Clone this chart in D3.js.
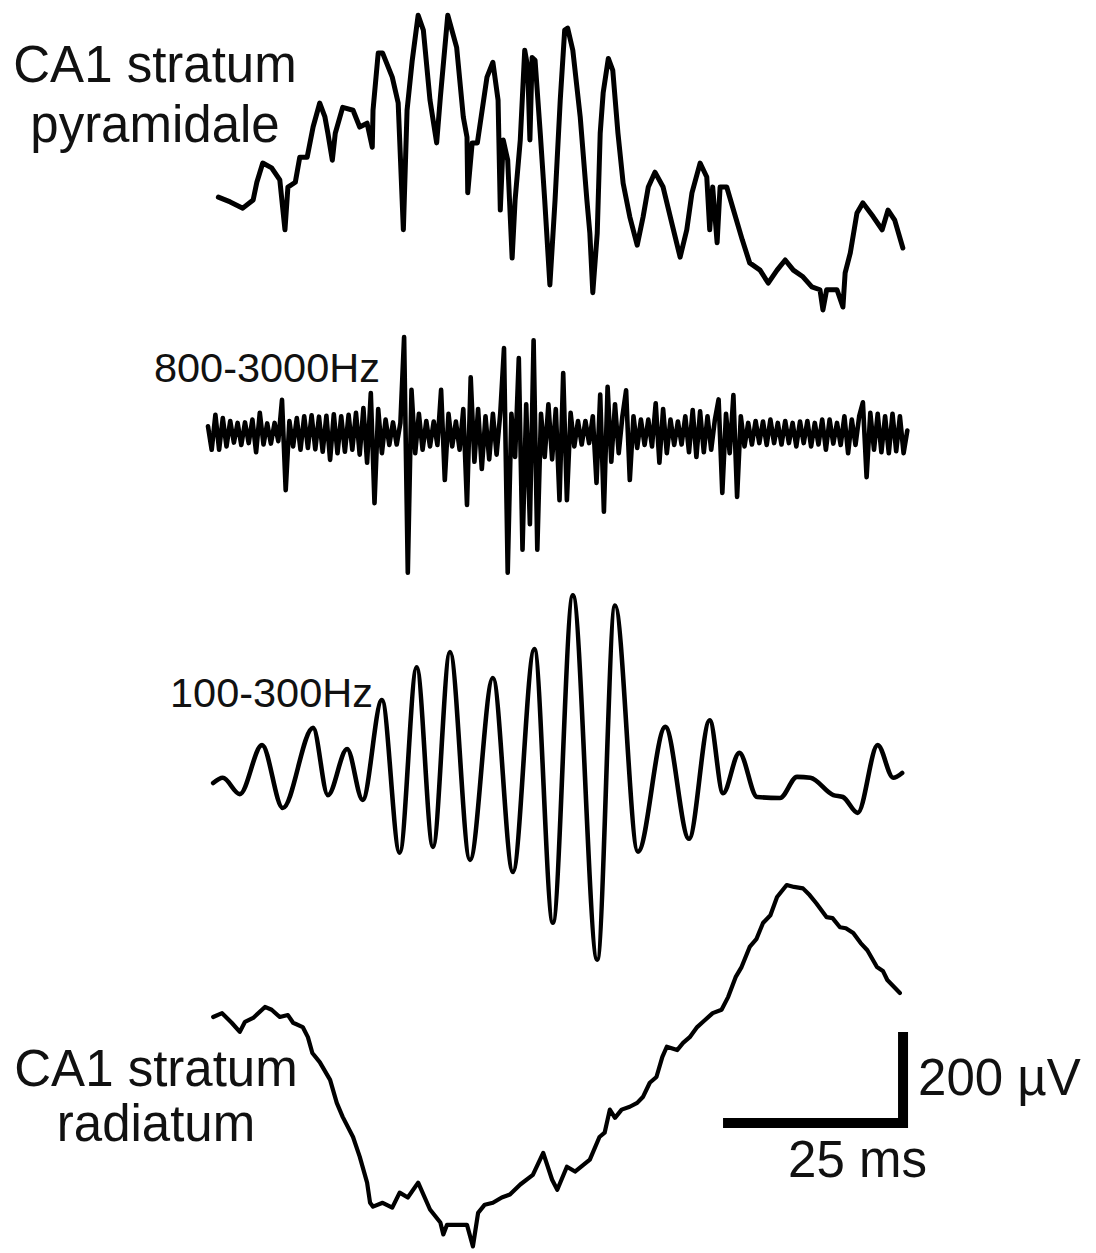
<!DOCTYPE html>
<html lang="en">

<head>
    <meta charset="UTF-8">
    <title>CA1 sharp-wave ripple</title>
    <script src="https://d3js.org/d3.v7.min.js"></script>
    <style>
        body {
            margin: 0;
            background: #fff;
            font-family: "Liberation Sans", Arial, sans-serif;
        }

        .trace {
            fill: none;
            stroke: #000;
            stroke-linejoin: round;
            stroke-linecap: round;
        }

        .label {
            fill: #111;
        }
    </style>
</head>

<body>
    <div id="chart"></div>

    <script>
        // ---- data: [time (ms), amplitude (µV)] ----
        const pyramidaleTrace = [
            [1.4, 6], [3.0, -4], [4.7, -17], [6.1, 0], [6.6, 37], [7.4, 77], [8.6, 67], [9.7, 42],
            [10.4, -62], [10.8, 27], [11.8, 37], [12.4, 89], [13.4, 89], [14.2, 152], [15.1, 202],
            [15.8, 173], [16.2, 139], [16.8, 83], [17.2, 139], [18.2, 193], [19.6, 187], [20.5, 152],
            [21.5, 160], [22.2, 110], [22.3, 187], [23.0, 306], [23.6, 306], [24.9, 256], [25.7, 202],
            [26.4, -62], [26.9, 187], [27.6, 291], [28.4, 385], [29.1, 354], [30.0, 208], [30.9, 119],
            [31.4, 214], [32.4, 385], [33.6, 318], [34.5, 173], [35.0, 131], [35.1, 15], [35.7, 119],
            [36.4, 119], [37.7, 256], [38.5, 287], [39.2, 208], [39.5, -21], [39.9, 125], [40.5, 83],
            [41.1, -121], [41.5, 0], [42.2, 125], [42.8, 312], [43.2, 277], [43.5, 125], [43.8, 297],
            [44.2, 291], [44.9, 139], [45.5, 0], [46.2, -177], [46.9, 0], [47.6, 208], [48.2, 354],
            [48.6, 358], [49.3, 312], [50.3, 173], [51.2, 0], [51.6, -69], [52.0, -193], [52.6, -69],
            [53.0, 139], [53.4, 223], [54.1, 295], [54.7, 270], [55.4, 139], [56.1, 35], [57.0, -35],
            [58.0, -94], [58.8, -35], [59.5, 27], [60.4, 58], [61.5, 27], [62.8, -56], [63.8, -119],
            [64.7, -62], [65.4, 15], [66.5, 77], [67.4, 48], [67.8, -62], [68.2, 27], [68.8, -89],
            [69.2, 27], [70.1, 27], [70.9, -15], [72.2, -83], [73.2, -131], [74.6, -146], [75.7, -173],
            [76.9, -146], [78.0, -125], [79.1, -146], [80.4, -160], [81.6, -181], [82.7, -187],
            [83.1, -229], [83.6, -187], [85.0, -187], [85.8, -223], [86.1, -152], [86.8, -110],
            [87.7, -27], [88.5, -6], [89.9, -35], [91.1, -62], [91.9, -21], [92.8, -42], [93.9, -100]
        ];

        // 800-3000 Hz band, uniformly sampled
        const highBandSampleMs = 0.5;
        const highBandValues = [
            14, -35, 38, -35, 31, -28, 25, -20, 21, -25, 22, -21, 28, -40, 42, -24, 20, -22, 21, -17,
            69, -119, 25, -28, 31, -35, 35, -31, 37, -34, 34, -39, 36, -56, 39, -42, 35, -39, 38, -35,
            42, -45, 52, -62, 83, -146, 50, -42, 28, -25, 22, -24, 21, 200, -291, 90, -42, 40, -35, 25,
            -28, 24, -25, 90, -98, 40, -28, 24, -35, 50, -150, 116, -60, 50, -75, 35, -55, 40, -45, 42,
            177, -291, 40, -50, 156, -243, 60, -190, 193, -243, 40, -50, 60, -55, 50, -140, 125, -140, 42, -28,
            25, -24, 25, -21, 35, -104, 80, -164, 96, -60, 60, -42, 35, 89, -98, 35, -31, 28, -25, 28,
            -28, 62, -62, 50, -42, 28, -25, 24, -24, 35, -40, 48, -50, 45, -40, 35, -35, 28, 70, -125,
            40, -42, 79, -133, 35, -28, 21, -24, 25, -21, 24, -25, 28, -21, 21, -24, 25, -21, 21, -28,
            24, -21, 25, -28, 21, -24, 28, -35, 28, -22, 21, -25, 35, -42, 28, -25, 35, 64, -92, 42,
            -35, 40, -40, 35, -42, 40, -38, 35, -42, 5
        ];

        // 100-300 Hz band: peaks and troughs
        const rippleTrace = [
            [0.7, 4], [2.0, 15], [4.3, -19], [7.3, 83], [10.1, -48], [14.2, 119], [16.2, -21],
            [18.8, 75], [20.9, -31], [23.5, 177], [25.9, -141], [28.2, 245], [30.4, -129], [32.7, 277],
            [35.4, -156], [38.5, 223], [41.2, -181], [44.1, 283], [46.6, -287], [49.3, 395], [52.6, -364],
            [55.0, 374], [58.1, -139], [61.8, 121], [65.0, -112], [67.8, 135], [69.6, -17], [71.8, 67],
            [74.2, -25], [77.3, -27], [79.6, 17], [81.4, 15], [84.5, -21], [85.8, -25], [87.8, -58],
            [90.5, 83], [92.6, 15], [93.8, 25]
        ];

        const radiatumTrace = [
            [0.7, 0], [1.9, 8], [3.2, -12], [4.3, -31], [5.0, -10], [6.1, -2], [7.7, 21], [8.6, 15],
            [9.7, 0], [10.8, 4], [11.5, -12], [12.8, -21], [13.5, -42], [14.1, -75], [15.1, -94],
            [16.5, -131], [17.4, -179], [18.2, -208], [19.6, -250], [20.5, -291], [21.5, -345],
            [21.9, -387], [22.3, -395], [23.6, -387], [24.9, -397], [25.9, -366], [27.0, -376],
            [28.4, -345], [30.0, -401], [31.4, -428], [31.8, -453], [32.3, -433], [33.6, -433],
            [35.0, -433], [35.8, -478], [36.5, -408], [37.4, -391], [38.5, -387], [39.7, -376],
            [40.8, -370], [42.2, -349], [43.9, -329], [45.3, -283], [46.5, -339], [47.2, -360],
            [48.5, -312], [49.6, -322], [51.6, -297], [52.9, -250], [53.6, -241], [54.3, -193],
            [55.0, -210], [55.9, -193], [57.0, -187], [58.0, -179], [58.8, -166], [59.7, -137],
            [60.6, -125], [61.4, -83], [62.0, -62], [63.4, -69], [64.2, -54], [65.1, -42], [66.1, -21],
            [66.9, -10], [68.2, 8], [69.4, 15], [70.3, 42], [71.3, 83], [72.1, 104], [73.2, 146],
            [74.1, 162], [75.0, 196], [76.0, 212], [76.9, 250], [78.2, 275], [79.2, 271], [80.4, 268],
            [81.3, 254], [82.2, 237], [83.6, 208], [84.4, 206], [85.4, 187], [86.2, 185], [87.2, 175],
            [88.2, 154], [89.1, 139], [90.4, 104], [91.2, 96], [91.8, 77], [93.5, 50]
        ];

        const traceLabels = [
            ["CA1 stratum", "pyramidale"],
            ["800-3000Hz"],
            ["100-300Hz"],
            ["CA1 stratum", "radiatum"]
        ];
        const scaleBarTime = 25;     // ms
        const scaleBarVolt = 200;    // µV
        const scaleBarLabels = ["25 ms", "200 \u00b5V"];

        // ---- layout ----
        const width = 1096;
        const height = 1253;
        const pxPerMs = 7.4;
        const pxPerUv = 0.48;
        const traceLeft = 208;
        const baselines = [200, 433, 785, 1017];
        const strokeWidths = [5, 4.6, 4.6, 4.2];

        const svg = d3.select("#chart")
            .append("svg")
            .attr("width", width)
            .attr("height", height);

        svg.append("rect").attr("width", width).attr("height", height).attr("fill", "#fff");

        const x = d3.scaleLinear()
            .domain([0, 100])
            .range([traceLeft, traceLeft + 100 * pxPerMs]);

        // one amplitude scale per trace, same gain, own baseline
        const yScales = baselines.map(b => d3.scaleLinear()
            .domain([0, scaleBarVolt])
            .range([b, b - scaleBarVolt * pxPerUv]));

        const highBandTrace = highBandValues.map((v, i) => [i * highBandSampleMs, v]);

        const traces = [
            { data: pyramidaleTrace, curve: d3.curveLinear },
            { data: highBandTrace, curve: d3.curveLinear },
            { data: rippleTrace, curve: d3.curveMonotoneX },
            { data: radiatumTrace, curve: d3.curveLinear }
        ];

        traces.forEach((tr, k) => {
            const y = yScales[k];
            const line = d3.line()
                .x(d => x(d[0]))
                .y(d => y(d[1]))
                .curve(tr.curve);
            svg.append("path")
                .datum(tr.data)
                .attr("class", "trace")
                .attr("stroke-width", strokeWidths[k])
                .attr("d", line);
        });

        // trace labels, one text per line
        const labelSpec = [
            { x: 155, y: 82, anchor: "middle", size: 51, lead: 60 },
            { x: 380, y: 382, anchor: "end", size: 41.5, lead: 0 },
            { x: 373, y: 707, anchor: "end", size: 41.5, lead: 0 },
            { x: 156, y: 1086, anchor: "middle", size: 51, lead: 55 }
        ];

        traceLabels.forEach((lines, k) => {
            const s = labelSpec[k];
            lines.forEach((txt, j) => {
                svg.append("text")
                    .attr("class", "label")
                    .attr("text-anchor", s.anchor)
                    .attr("x", s.x)
                    .attr("y", s.y + j * s.lead)
                    .style("font-size", s.size + "px")
                    .text(txt);
            });
        });

        // scale bar (L shape)
        const barW = 10;
        const barT0 = 69.6;
        const barBottom = 1128;
        const yR = yScales[3];
        const barH = yR(0) - yR(scaleBarVolt);
        const bx0 = x(barT0);
        const bx1 = x(barT0 + scaleBarTime);

        svg.append("path")
            .attr("d", `M${bx0},${barBottom - barW / 2}H${bx1 - barW / 2}V${barBottom - barH}`)
            .attr("fill", "none")
            .attr("stroke", "#000")
            .attr("stroke-width", barW)
            .attr("stroke-linejoin", "miter")
            .attr("stroke-linecap", "butt");

        svg.append("text")
            .attr("class", "label")
            .attr("x", (bx0 + bx1) / 2 + 42)
            .attr("y", 1177)
            .attr("text-anchor", "middle")
            .style("font-size", "51px")
            .text(scaleBarLabels[0]);

        svg.append("text")
            .attr("class", "label")
            .attr("x", bx1 + 10)
            .attr("y", 1095)
            .style("font-size", "51px")
            .text(scaleBarLabels[1]);
    </script>
</body>

</html>
